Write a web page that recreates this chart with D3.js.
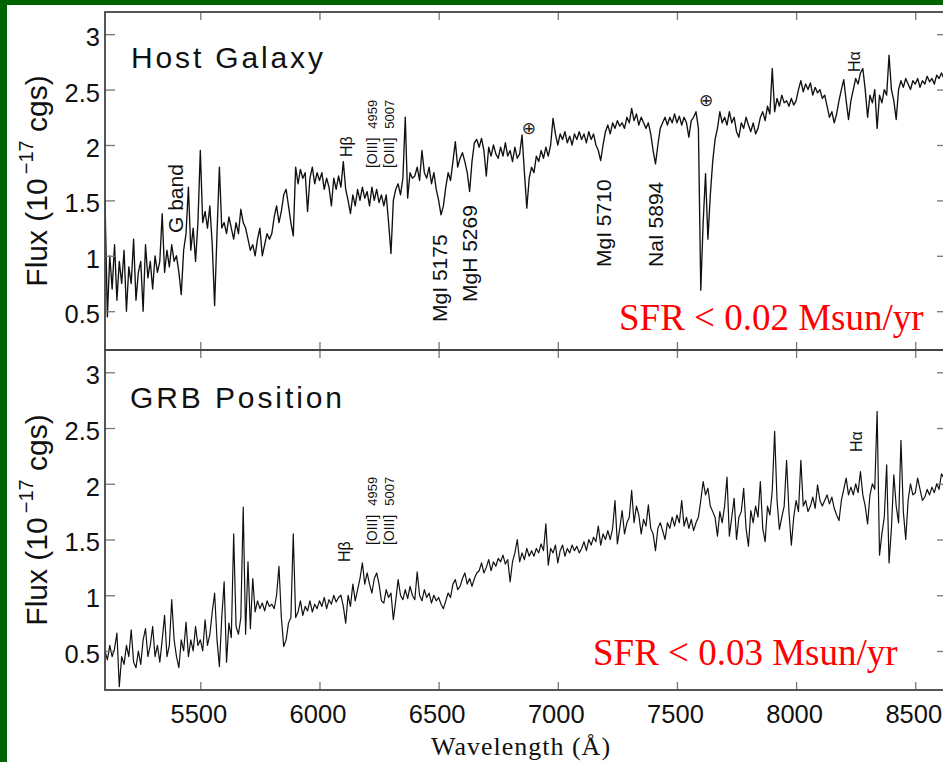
<!DOCTYPE html>
<html><head><meta charset="utf-8">
<script src="https://cdn.jsdelivr.net/npm/d3@7"></script>
<style>body{margin:0;background:#fff;} svg{display:block;}</style>
</head><body>
<svg id="chart" width="943" height="762"></svg>
<script>
// ---------------- DATA ----------------
const waveStart = 5100;   // Angstrom, first sample
const waveStep = 10;      // Angstrom per sample

const hostFlux = [
 1.5,0.45,1.0,0.7,1.1,0.6,0.95,0.75,1.05,0.5,
 0.9,0.75,1.15,0.6,0.85,0.95,0.5,1.1,0.8,0.95,
 0.7,1.0,0.85,0.95,1.38,0.85,1.05,0.9,1.1,0.95,
 1.0,0.85,0.65,1.05,1.2,1.62,1.05,1.25,0.95,1.3,
 1.95,1.3,1.4,1.25,1.45,1.1,0.55,1.2,1.8,1.25,
 1.3,1.2,1.35,1.25,1.15,1.3,1.2,1.42,1.3,1.25,
 1.15,1.05,1.1,1.0,1.15,1.25,1.0,1.1,1.2,1.15,
 1.2,1.35,1.45,1.3,1.4,1.55,1.6,1.45,1.3,1.18,
 1.8,1.65,1.78,1.7,1.75,1.4,1.7,1.8,1.65,1.75,
 1.68,1.75,1.6,1.7,1.62,1.45,1.7,1.6,1.72,1.62,
 1.85,1.6,1.5,1.38,1.55,1.45,1.6,1.5,1.62,1.52,
 1.58,1.45,1.62,1.5,1.6,1.48,1.55,1.45,1.55,1.3,
 1.02,1.5,1.6,1.65,1.55,1.7,2.25,1.52,1.75,1.7,
 1.72,1.8,1.68,1.95,1.75,1.7,1.8,1.65,1.75,1.6,
 1.5,1.37,1.45,1.62,1.75,1.68,1.85,2.03,1.8,1.88,
 1.93,1.85,1.75,1.58,1.85,2.02,2.05,1.98,2.06,1.95,
 1.72,1.98,1.9,2.0,1.92,1.88,1.98,1.9,2.02,1.9,
 1.95,1.85,1.98,1.88,1.92,2.09,1.75,1.43,1.7,1.8,
 1.75,1.9,1.85,1.95,1.88,1.98,1.9,2.0,2.24,2.1,
 2.0,2.1,2.05,2.12,2.02,2.08,2.0,2.1,2.05,2.12,
 2.05,2.1,2.02,2.12,2.05,2.1,2.0,1.95,1.86,2.0,
 2.12,2.18,2.1,2.2,2.15,2.22,2.17,2.2,2.15,2.25,
 2.2,2.33,2.22,2.28,2.18,2.25,2.2,2.15,2.2,2.1,
 1.95,1.83,2.0,2.15,2.2,2.25,2.18,2.25,2.2,2.28,
 2.2,2.26,2.18,2.25,2.2,2.07,2.22,2.25,2.3,2.15,
 0.69,1.3,1.74,1.15,1.55,1.85,2.05,2.15,2.3,2.2,
 2.25,2.18,2.3,2.2,2.25,2.12,2.07,2.2,2.15,2.25,
 2.18,2.12,2.2,2.1,2.15,2.25,2.3,2.22,2.35,2.28,
 2.69,2.3,2.42,2.35,2.45,2.38,2.4,2.35,2.42,2.36,
 2.4,2.5,2.58,2.48,2.55,2.5,2.56,2.45,2.52,2.47,
 2.5,2.42,2.45,2.35,2.25,2.3,2.2,2.28,2.4,2.5,
 2.59,2.4,2.23,2.4,2.5,2.6,2.55,2.65,2.69,2.5,
 2.25,2.45,2.38,2.5,2.15,2.45,2.38,2.5,2.45,2.81,
 2.5,2.4,2.23,2.5,2.58,2.52,2.6,2.55,2.5,2.58,
 2.55,2.6,2.52,2.58,2.55,2.62,2.57,2.6,2.55,2.63,
 2.6,2.65,2.6,2.62
];

const grbFlux = [
 0.5,0.42,0.55,0.45,0.52,0.66,0.18,0.45,0.38,0.55,
 0.45,0.69,0.4,0.35,0.5,0.38,0.6,0.7,0.45,0.55,
 0.72,0.45,0.55,0.4,0.6,0.82,0.45,0.55,0.96,0.6,
 0.45,0.35,0.6,0.5,0.76,0.45,0.6,0.5,0.72,0.55,
 0.6,0.5,0.78,0.55,0.65,0.85,1.02,0.6,0.36,0.8,
 1.12,0.4,0.75,0.62,1.55,0.72,0.65,0.8,1.79,0.65,
 1.3,0.7,1.15,0.85,0.95,0.88,0.93,0.86,0.95,0.9,
 0.92,0.88,1.0,1.26,0.8,0.54,0.6,0.75,0.8,1.55,
 0.8,0.85,0.95,0.82,0.9,0.86,0.95,0.85,0.92,0.88,
 0.95,0.9,0.98,0.88,0.96,0.92,1.0,0.94,0.98,1.0,
 0.9,0.75,1.0,0.9,1.1,0.95,1.05,1.15,1.29,1.1,
 1.2,1.1,1.02,1.15,1.2,1.1,0.95,0.93,1.05,0.98,
 1.02,0.78,0.95,1.14,1.0,0.96,1.05,0.97,1.08,1.0,
 0.96,1.21,1.0,0.95,1.05,0.98,1.02,0.93,1.0,0.95,
 0.98,0.92,0.88,0.95,1.02,0.98,1.1,1.14,1.05,1.08,
 1.15,1.2,1.1,1.15,1.08,1.15,1.2,1.22,1.29,1.2,
 1.25,1.32,1.22,1.3,1.26,1.33,1.3,1.36,1.28,1.32,
 1.12,1.3,1.38,1.5,1.3,1.38,1.32,1.42,1.35,1.4,
 1.35,1.42,1.38,1.46,1.4,1.64,1.27,1.42,1.38,1.45,
 1.29,1.4,1.45,1.35,1.42,1.38,1.45,1.4,1.44,1.38,
 1.42,1.48,1.4,1.5,1.45,1.52,1.48,1.62,1.45,1.55,
 1.5,1.58,1.5,1.6,1.85,1.46,1.6,1.76,1.55,1.65,
 1.7,1.94,1.65,1.8,1.72,1.55,1.68,1.62,1.81,1.6,
 1.55,1.4,1.6,1.65,1.58,1.5,1.65,1.6,1.7,1.62,
 1.72,1.65,1.85,1.62,1.7,1.6,1.68,1.58,1.65,1.7,
 1.85,2.02,1.9,1.96,1.8,1.75,1.7,1.53,1.75,1.65,
 1.8,2.06,1.53,1.7,1.87,1.5,1.7,1.75,1.96,1.6,
 1.44,1.76,1.65,1.8,1.7,2.02,1.6,1.48,1.8,1.72,
 1.94,2.47,1.85,1.59,1.7,1.8,2.21,1.75,1.45,1.7,
 1.85,1.75,2.21,1.8,1.85,1.75,1.8,1.88,1.78,1.99,
 1.85,1.8,1.85,1.9,1.82,1.88,1.78,1.72,1.67,1.85,
 1.95,2.05,1.9,1.97,1.9,2.0,1.92,2.11,1.9,1.8,
 1.64,1.9,2.0,1.95,2.65,1.36,1.55,1.7,2.17,1.29,
 1.6,2.08,1.8,1.65,2.39,1.75,1.5,1.85,2.0,1.9,
 1.92,2.05,1.95,1.85,1.88,1.95,1.9,1.97,1.92,2.0,
 1.95,2.09,2.05,2.0
];

const xTickValues = [5500, 6000, 6500, 7000, 7500, 8000, 8500];
const yTickValues = [0.5, 1, 1.5, 2, 2.5, 3];
const yTickLabels = ["0.5", "1", "1.5", "2", "2.5", "3"];
const panelTitles = ["Host Galaxy", "GRB Position"];
const sfrLabels = ["SFR < 0.02 Msun/yr", "SFR < 0.03 Msun/yr"];
const xAxisTitle = "Wavelength (Å)";

// line identifications: label, kind, anchor wavelength, anchor flux
const hostLines = [
  {label: "G band",   kind: "abs", wave: 5427, flux: 1.206},
  {label: "Hβ",       kind: "em",  wave: 6136, flux: 1.892},
  {label: "[OIII]", num: "4959", kind: "oiii", wave: 6241, flux: 1.792},
  {label: "[OIII]", num: "5007", kind: "oiii", wave: 6313, flux: 1.792},
  {label: "MgI 5175", kind: "abs", wave: 6535, flux: 0.403},
  {label: "MgH 5269", kind: "abs", wave: 6661, flux: 0.583},
  {label: "MgI 5710", kind: "abs", wave: 7223, flux: 0.899},
  {label: "NaI 5894", kind: "abs", wave: 7441, flux: 0.899},
  {label: "Hα",       kind: "em",  wave: 8268, flux: 2.659}
];
const hostTelluric = [
  {label: "⊕", wave: 6879, flux: 2.153},
  {label: "⊕", wave: 7622, flux: 2.406}
];
const grbLines = [
  {label: "Hβ",       kind: "em",  wave: 6128, flux: 1.298},
  {label: "[OIII]", num: "4959", kind: "oiii", wave: 6241, flux: 1.450},
  {label: "[OIII]", num: "5007", kind: "oiii", wave: 6313, flux: 1.450},
  {label: "Hα",       kind: "em",  wave: 8276, flux: 2.285}
];

// ---------------- LAYOUT ----------------
const W = 943, H = 762;
const plotLeft = 105, plotRight = 946;
const panelBoxes = [{top: 12, bottom: 350}, {top: 350, bottom: 690}];
const sans = "'Liberation Sans', Arial, Helvetica, sans-serif";
const serif = "'Liberation Serif', 'Times New Roman', serif";

const svg = d3.select("#chart");
svg.append("rect").attr("width", W).attr("height", H).attr("fill", "#006400");
svg.append("rect").attr("x", 7).attr("y", 5).attr("width", W - 7).attr("height", H - 5).attr("fill", "#ffffff");

const x = d3.scaleLinear().domain([5100, 8629]).range([plotLeft, plotRight]);

function toSeries(arr) {
  return arr.map((f, i) => ({wave: waveStart + i * waveStep, flux: f}));
}
const spectra = [toSeries(hostFlux), toSeries(grbFlux)];
const annotations = [hostLines, grbLines];
const sfrPos = [{x: 619, y: 330}, {x: 593, y: 665}];
const titlePos = [{x: 131, y: 68, ls: 2.85}, {x: 130, y: 408, ls: 2.9}];

const kindSize = {abs: 21, em: 16, oiii: 14};

panelBoxes.forEach((box, p) => {
  const y = d3.scaleLinear().domain([0.15, 3.2]).range([box.bottom, box.top]);
  const g = svg.append("g");

  // clip
  const clipId = "clip" + p;
  svg.append("clipPath").attr("id", clipId).append("rect")
    .attr("x", plotLeft).attr("y", box.top).attr("width", plotRight - plotLeft).attr("height", box.bottom - box.top);

  // spectrum
  const line = d3.line().x(d => x(d.wave)).y(d => y(d.flux));
  g.append("path").datum(spectra[p])
    .attr("clip-path", `url(#${clipId})`)
    .attr("d", line).attr("fill", "none")
    .attr("stroke", "#111").attr("stroke-width", p === 0 ? 1.35 : 1.2).attr("stroke-linejoin", "round");

  // axes (ticks inward)
  const tickCol = "#777";
  const left = g.append("g").attr("transform", `translate(${plotLeft},0)`)
    .call(d3.axisLeft(y).tickValues(yTickValues).tickSize(-10).tickPadding(5)
      .tickFormat((d, i) => yTickLabels[i]));
  const right = g.append("g").attr("transform", `translate(${plotRight},0)`)
    .call(d3.axisRight(y).tickValues(yTickValues).tickSize(-9).tickFormat(""));
  const topAx = g.append("g").attr("transform", `translate(0,${box.top})`)
    .call(d3.axisTop(x).tickValues(xTickValues).tickSize(-8).tickFormat(""));
  const botAx = g.append("g").attr("transform", `translate(0,${box.bottom})`)
    .call(d3.axisBottom(x).tickValues(xTickValues).tickSize(-8).tickPadding(15)
      .tickFormat(p === 1 ? d3.format("d") : ""));
  [left, right, topAx, botAx].forEach(a => {
    a.select(".domain").remove();
    a.selectAll(".tick line").attr("stroke", tickCol).attr("stroke-width", 1.3);
    a.selectAll("text").attr("font-family", sans).attr("font-size", 25.5).attr("fill", "#111");
  });
  left.selectAll("text").attr("dy", "0.45em");
  botAx.selectAll(".tick text").attr("dx", "-2");

  // frame
  g.append("rect").attr("x", plotLeft).attr("y", box.top)
    .attr("width", plotRight - plotLeft).attr("height", box.bottom - box.top)
    .attr("fill", "none").attr("stroke", "#444").attr("stroke-width", 1.8);

  // title
  g.append("text").attr("x", titlePos[p].x).attr("y", titlePos[p].y)
    .attr("font-family", sans).attr("font-size", 30).attr("letter-spacing", titlePos[p].ls)
    .attr("fill", "#111").text(panelTitles[p]);

  // SFR
  g.append("text").attr("x", sfrPos[p].x).attr("y", sfrPos[p].y)
    .attr("font-family", serif).attr("font-size", 37).attr("fill", "#ff0000")
    .text(sfrLabels[p]);

  // y axis title
  const cy = (box.top + box.bottom) / 2;
  const yt = g.append("text")
    .attr("transform", `translate(47,${cy}) rotate(-90)`)
    .attr("text-anchor", "middle").attr("font-family", sans).attr("font-size", 30).attr("fill", "#111");
  yt.append("tspan").text("Flux (10");
  yt.append("tspan").attr("dx", 4).attr("dy", -14).attr("font-size", 20).text("−17");
  yt.append("tspan").attr("dy", 14).text(" cgs)");

  // line annotations
  annotations[p].forEach(a => {
    const t = g.append("text")
      .attr("transform", `translate(${x(a.wave)},${y(a.flux)}) rotate(-90)`)
      .attr("font-family", sans).attr("font-size", kindSize[a.kind]).attr("fill", "#111");
    t.append("tspan").text(a.label);
    if (a.num) t.append("tspan").attr("dx", 9).attr("font-size", 13).text(a.num);
  });
  if (p === 0) {
    hostTelluric.forEach(a => {
      g.append("text").attr("x", x(a.wave)).attr("y", y(a.flux))
        .attr("text-anchor", "middle").attr("dominant-baseline", "central")
        .attr("font-family", "'DejaVu Sans', sans-serif").attr("font-size", 17)
        .attr("fill", "#222").text(a.label);
    });
  }
});

// x axis title
svg.append("text").attr("x", 521).attr("y", 755).attr("text-anchor", "middle")
  .attr("font-family", serif).attr("font-size", 26).attr("letter-spacing", 1)
  .attr("fill", "#111").text(xAxisTitle);
</script>
</body></html>
